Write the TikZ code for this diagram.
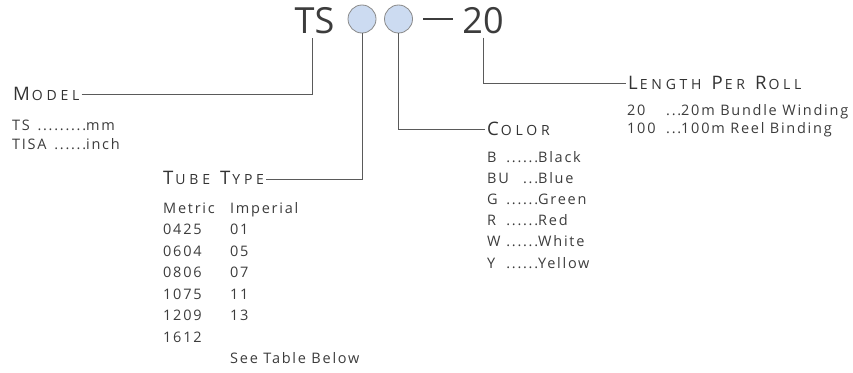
\documentclass[tikz,border=0pt]{standalone}
\usepackage{fontspec}
\setmainfont{Open Sans}
\newfontfamily\bodyfont[LetterSpace=12]{Open Sans}
\newfontfamily\headfont[LetterSpace=27]{Open Sans}
\usetikzlibrary{positioning}

\definecolor{inkgray}{HTML}{3C3C3C}
\definecolor{headgray}{HTML}{333333}
\definecolor{leadgray}{HTML}{5A5A5A}
\definecolor{dotblue}{HTML}{CCDBF1}
\definecolor{dotedge}{HTML}{8A8A8A}

\newcommand{\headcaps}[2]{{\fontsize{18.6}{20}\selectfont #1}\hspace{2pt}{\fontsize{14}{16}\selectfont #2}}
\newcommand{\headgap}{\hspace{10pt}}
\newcommand{\leaddots}[1]{\ifcase#1\or.\or..\or...\or....\or.....\or......\fi}

\begin{document}
\begin{tikzpicture}[
		x=1pt, y=-1pt,
		% Define styles
		bigtext/.style={font=\fontsize{36}{36}\selectfont, text=inkgray, inner sep=0pt, anchor=base},
		dot/.style={circle, minimum size=28pt, inner sep=0pt, draw=dotedge, fill=dotblue, line width=0.8pt},
		heading/.style={font=\headfont, text=headgray, inner xsep=2pt, inner ysep=0pt, anchor=base west},
		item/.style={font=\bodyfont\fontsize{14.5}{17}\selectfont, text=inkgray, inner sep=0pt, anchor=base west},
		leader/.style={draw=leadgray, line width=0.9pt}
		]
		\useasboundingbox (0,0) rectangle (853,372);
		
		% Part number
		\node (ts) [bigtext] at (314.5,33) {TS};
		\node (c1) [dot] at (362,19) {};
		\node (c2) [dot] at (398.5,19) {};
		\node (dash) [inner sep=0pt, fill=inkgray, minimum width=30pt, minimum height=2.2pt] at (438,19) {};
		\node (len) [bigtext] at (483,33) {20};
		
		% Headings
		\node (model) [heading] at (11,100) {\headcaps{M}{ODEL}};
		\node (tube) [heading] at (161,184) {\headcaps{T}{UBE}\headgap\headcaps{T}{YPE}};
		\node (color) [heading] at (485,135) {\headcaps{C}{OLOR}};
		\node (length) [heading] at (626,89) {\headcaps{L}{ENGTH}\headgap\headcaps{P}{ER}\headgap\headcaps{R}{OLL}};
		
		% Model list
		\node (model-1) [item] at (12,130) {\makebox[74pt][l]{TS\hfill.........}mm};
		\node (model-2) [item] at (12,149) {\makebox[74pt][l]{TISA\hfill......}inch};
		
		% Tube type list
		\foreach \met/\imp [count=\i from 0] in {Metric/Imperial, 0425/01, 0604/05, 0806/07, 1075/11, 1209/13, 1612/{}}
			\node (tube-\i) [item] at (163,213.5+21.43*\i) {\makebox[67pt][l]{\met}\imp};
		\node (tube-note) [item] at (230,363.5) {See Table Below};
		
		% Color list
		\foreach \code/\n/\name [count=\i from 0] in {B/6/Black, BU/3/Blue, G/6/Green, R/6/Red, W/6/White, Y/6/Yellow}
			\node (color-\i) [item] at (487,162+21.2*\i) {\makebox[51pt][l]{\code\hfill\leaddots{\n}}\name};
		
		% Length list
		\node (length-1) [item] at (627,115) {\makebox[54pt][l]{20\hfill...}20m Bundle Winding};
		\node (length-2) [item] at (627,133.5) {\makebox[54pt][l]{100\hfill...}100m Reel Binding};
		
		% Draw leaders
		\draw [leader, shorten >=4pt] ([yshift=6pt]model.base east) -| ([xshift=-2pt]ts.south);
		\draw [leader] ([yshift=5pt]tube.base east) -| (c1.south);
		\draw [leader] (c2.south) |- ([yshift=6pt]color.base west);
		\draw [leader, shorten <=4pt] (len.south) |- ([yshift=6pt]length.base west);
		
	\end{tikzpicture}
\end{document}
